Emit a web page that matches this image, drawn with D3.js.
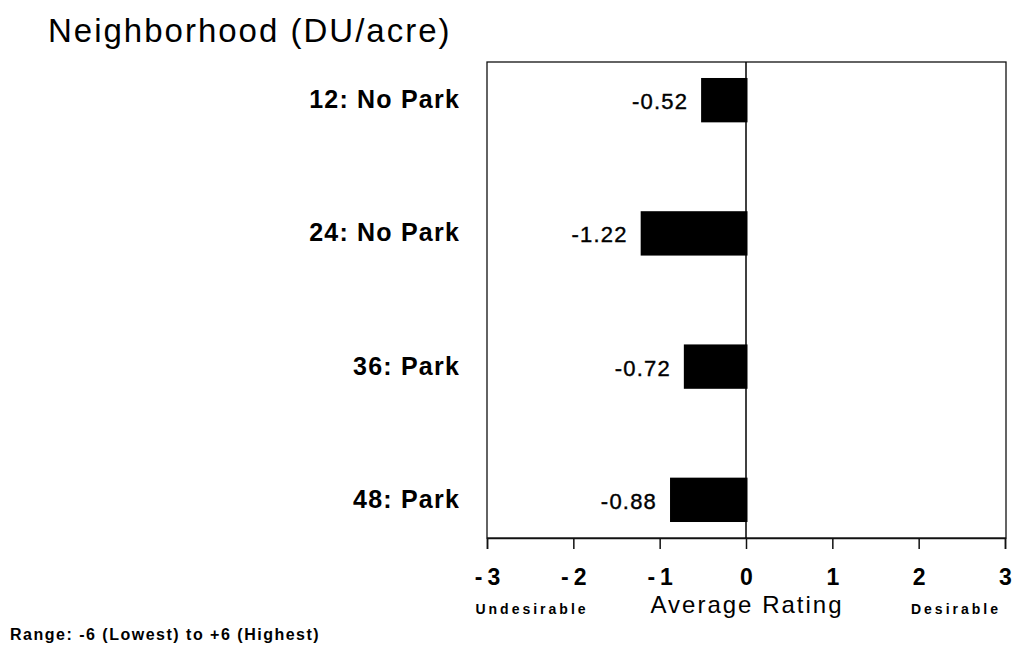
<!DOCTYPE html>
<html><head><meta charset="utf-8">
<script src="https://cdn.jsdelivr.net/npm/d3@7"></script>
<style>body{margin:0;background:#fff;} svg{display:block;font-family:"Liberation Sans",Arial,Helvetica,sans-serif;}</style>
</head><body>
<script>
const categories = ["12: No Park", "24: No Park", "36: Park", "48: Park"];
const values = [-0.52, -1.22, -0.72, -0.88];
const valueLabels = ["-0.52", "-1.22", "-0.72", "-0.88"];
const tickValues = [-3, -2, -1, 0, 1, 2, 3];
const tickLabels = ["-3", "-2", "-1", "0", "1", "2", "3"];

const W = 1015, H = 647;
const svg = d3.select("body").append("svg").attr("width", W).attr("height", H);
const pL = 487, pR = 1006, pT = 62, pB = 538;

const x = d3.scaleLinear().domain([-3, 3]).range([pL, 1005]);
const y = d3.scaleBand().domain(categories).range([pT, pB]).paddingInner(0.667).paddingOuter(0.12);

// frame
svg.append("rect").attr("x", pL).attr("y", pT).attr("width", pR - pL).attr("height", pB - pT)
  .attr("fill", "none").attr("stroke", "#111").attr("stroke-width", 1.3);

// bars
svg.selectAll("rect.bar").data(values).enter().append("rect").attr("class", "bar")
  .attr("x", d => x(Math.min(0, d))).attr("width", d => Math.abs(x(d) - x(0)) + 1.5)
  .attr("y", (d, i) => y(categories[i])).attr("height", y.bandwidth()).attr("fill", "#000");

// zero line
svg.append("line").attr("x1", x(0)).attr("x2", x(0)).attr("y1", pT).attr("y2", pB)
  .attr("stroke", "#000").attr("stroke-width", 1.5);

// value labels
svg.selectAll("text.val").data(values).enter().append("text").attr("class", "val")
  .attr("x", d => x(d) - 13).attr("y", (d, i) => y(categories[i]) + y.bandwidth() / 2 + 9)
  .attr("text-anchor", "end").attr("font-size", 22).attr("letter-spacing", 1.2).attr("fill", "#000")
  .attr("stroke", "#000").attr("stroke-width", 0.4)
  .text((d, i) => valueLabels[i]);

// category labels
svg.selectAll("text.cat").data(categories).enter().append("text").attr("class", "cat")
  .attr("x", 460).attr("y", d => y(d) + y.bandwidth() / 2 + 8)
  .attr("text-anchor", "end").attr("font-size", 25).attr("font-weight", "bold").attr("letter-spacing", 1.2)
  .attr("fill", "#000")
  .text(d => d);

// x axis
const axis = d3.axisBottom(x).tickValues(tickValues).tickSize(11).tickPadding(14)
  .tickFormat((d, i) => tickLabels[i]);
const gx = svg.append("g").attr("transform", `translate(0,${pB})`).call(axis);
gx.select(".domain").attr("stroke", "#111").attr("stroke-width", 1.5);
gx.selectAll(".tick line").attr("stroke", "#111").attr("stroke-width", 1.5);
gx.selectAll(".tick text").attr("font-size", 23).attr("font-weight", "bold").attr("fill", "#000")
  .attr("letter-spacing", d => d < 0 ? 5 : 0).attr("dx", d => d < 0 ? 2.5 : 0).attr("y", 47).attr("dy", 0)
  .attr("font-family", "\"Liberation Sans\",Arial,sans-serif");

// axis titles
svg.append("text").attr("x", x(0) + 1).attr("y", 613).attr("text-anchor", "middle")
  .attr("font-size", 24).attr("letter-spacing", 2).text("Average Rating");
svg.append("text").attr("x", 532).attr("y", 614).attr("text-anchor", "middle")
  .attr("font-size", 14).attr("font-weight", "bold").attr("letter-spacing", 3).text("Undesirable");
svg.append("text").attr("x", 956).attr("y", 614).attr("text-anchor", "middle")
  .attr("font-size", 14).attr("font-weight", "bold").attr("letter-spacing", 3).text("Desirable");

// title
svg.append("text").attr("x", 48).attr("y", 42).attr("font-size", 33).attr("letter-spacing", 2)
  .text("Neighborhood (DU/acre)");

// footnote
svg.append("text").attr("x", 10).attr("y", 640).attr("font-size", 16).attr("font-weight", "bold")
  .attr("letter-spacing", 1.5)
  .text("Range: -6 (Lowest) to +6 (Highest)");
</script>
</body></html>
